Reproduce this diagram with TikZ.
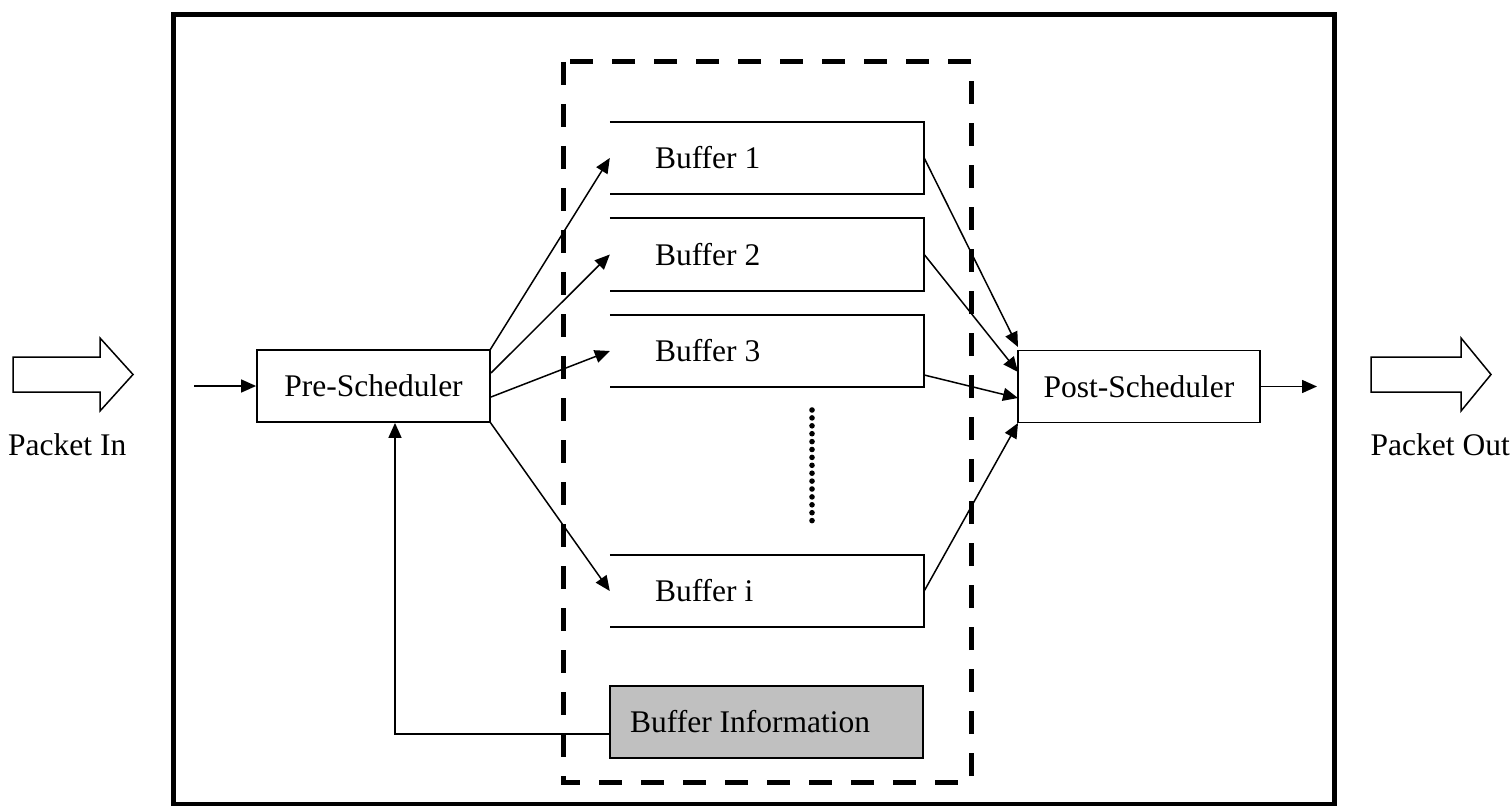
\documentclass[tikz,border=0pt]{standalone}
\usepackage{fontspec}
\setmainfont{Liberation Serif}
\usetikzlibrary{arrows.meta,calc}
\definecolor{infogray}{RGB}{192,192,192}
\begin{document}
\begin{tikzpicture}[x=1pt,y=-1pt,
  every node/.style={font=\fontsize{31.5}{37}\selectfont},
  sched/.style={draw,line width=1.8pt,minimum width=#1,minimum height=72pt,inner sep=0pt},
  bufslot/.style={minimum width=314pt,minimum height=72pt,inner sep=0pt},
  buflabel/.style={anchor=west,inner sep=0pt},
  bufline/.style={line width=1.8pt},
  conn/.style={line width=1.5pt,-{Triangle[length=15pt,width=13pt]}},
  hollow/.style={draw,line width=1.5pt,line join=miter}
]
\useasboundingbox (0,0) rectangle (1511,805);

% enclosing system frame
\draw[line width=5pt] (173.5,14.5) rectangle (1334.5,804.5);
% buffer pool
\draw[line width=5pt,dash pattern=on 23pt off 19pt] (563,62) rectangle (971,782);

% schedulers
\node[sched=233pt] (pre) at (373.5,386) {Pre-Scheduler};
\node[sched=242pt] (post) at (1139,386.5) {Post-Scheduler};

% queues, open on the left side
\node[bufslot] (b1) at (767,158) {};
\node[bufslot] (b2) at (767,254.5) {};
\node[bufslot] (b3) at (767,351) {};
\node[bufslot] (bi) at (767,591) {};
\foreach \b in {b1,b2,b3,bi}
  \draw[bufline] (\b.north west) -- (\b.north east) -- (\b.south east) -- (\b.south west);
\node[buflabel] (l1) at ([xshift=45pt]b1.west) {Buffer 1};
\node[buflabel] (l2) at ([xshift=45pt]b2.west) {Buffer 2};
\node[buflabel] (l3) at ([xshift=45pt]b3.west) {Buffer 3};
\node[buflabel] (li) at ([xshift=45pt]bi.west) {Buffer i};

% vertical ellipsis between queues
\foreach \k in {0,...,14}
  \fill (812,410+7.9*\k) circle (2.8pt);

% buffer status block
\node[draw,line width=1.8pt,fill=infogray,minimum width=313pt,minimum height=72pt,inner sep=0pt]
  (info) at (766.5,722) {};
\node[buflabel] (infol) at (630,722) {Buffer Information};

% input / output arrows
\coordinate (inS) at (194,386);
\coordinate (outE) at (1317,386.5);
\draw[conn] (inS) -- (pre.west);
\draw[conn] (post.east) -- (outE);

% pre-scheduler to queues
\coordinate (p1) at (490,350);
\coordinate (p2) at (491,373);
\coordinate (p3) at (491,397);
\coordinate (p4) at (490,422);
\draw[conn] (p1) -- (b1.west);
\draw[conn] (p2) -- (b2.west);
\draw[conn] (p3) -- (b3.west);
\draw[conn] (p4) -- (bi.west);

% queues to post-scheduler
\coordinate (q1) at (1018,347);
\coordinate (q2) at (1018,372);
\coordinate (q3) at (1018,398);
\coordinate (q4) at (1018,423);
\draw[conn] (b1.east) -- (q1);
\draw[conn] (b2.east) -- (q2);
\draw[conn] ([yshift=-24pt]b3.east) -- (q3);
\draw[conn] (bi.east) -- (q4);

% feedback from buffer information
\coordinate (fb) at (395,734);
\coordinate (fbS) at (info.west |- fb);
\draw[conn] (fbS) -- (fb) -- (pre.south -| fb);

% block arrows for packet flow
\draw[hollow] (13,357) -- (100,357) -- (100,338) -- (133,374.5) -- (100,411) -- (100,392) -- (13,392) -- cycle;
\draw[hollow] (1371,357) -- (1461,357) -- (1461,338) -- (1491,374.5) -- (1461,411) -- (1461,392) -- (1371,392) -- cycle;
\node[anchor=west,inner sep=0pt] (pin) at (8,445) {Packet In};
\node[anchor=east,inner sep=0pt] (pout) at (1510,445) {Packet Out};
\end{tikzpicture}
\end{document}
